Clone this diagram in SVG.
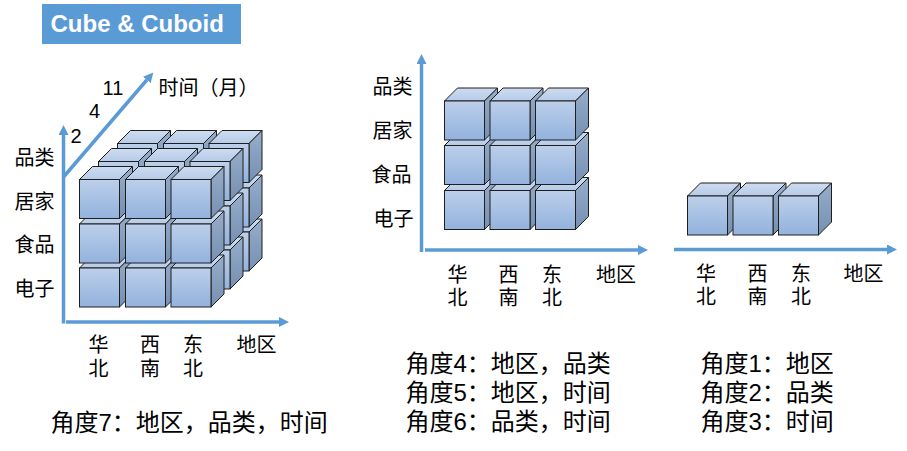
<svg xmlns="http://www.w3.org/2000/svg" width="907" height="451" viewBox="0 0 907 451">
<style>
.t{font-family:"Liberation Sans","Noto Sans CJK SC",sans-serif;fill:#000}
.lab{font-size:20px}
.cap{font-size:24px}
.num{font-size:20px}
.ax{stroke:#5b9bd5;stroke-width:3.5;fill:none;marker-end:url(#arr)}
.front{fill:url(#gFront);stroke:#1e1e1e;stroke-width:1}
.top{fill:url(#gTop);stroke:#1e1e1e;stroke-width:1;stroke-linejoin:round}
.side{fill:url(#gSide);stroke:#1e1e1e;stroke-width:1}
</style>
<defs>
<linearGradient id="gFront" x1="0" y1="0" x2="0" y2="1"><stop offset="0" stop-color="#bccfea"/><stop offset="1" stop-color="#93b2dd"/></linearGradient>
<linearGradient id="gTop" x1="0" y1="0" x2="0" y2="1"><stop offset="0" stop-color="#cddcf1"/><stop offset="1" stop-color="#b6cbe8"/></linearGradient>
<linearGradient id="gSide" x1="0" y1="0" x2="0" y2="1"><stop offset="0" stop-color="#97adca"/><stop offset="1" stop-color="#7690b2"/></linearGradient>
<g id="cube">
<path class="top" d="M0,0 L13,-13 L53,-13 L40,0 Z"/>
<path class="side" d="M40,0 L53,-13 L53,26 L40,39 Z"/>
<rect class="front" x="0" y="0" width="40" height="39"/>
</g>
<marker id="arr" viewBox="0 0 10 10" refX="0" refY="5" markerWidth="10" markerHeight="10" markerUnits="userSpaceOnUse" orient="auto"><path d="M0,0 L10,5 L0,10 Z" fill="#5b9bd5"/></marker>
</defs>
<rect x="0" y="0" width="907" height="451" fill="#ffffff"/>

<g id="title">
<rect x="42" y="4" width="199" height="40" fill="#5b9bd5"/>
<text x="50.5" y="32" font-family="Liberation Sans, sans-serif" font-size="24" font-weight="bold" fill="#ffffff">Cube &amp; Cuboid</text>
</g>

<g id="connectors">
<line class="ax" x1="63.5" y1="323.5" x2="63.5" y2="135"/>
<line class="ax" x1="66" y1="322" x2="279" y2="322"/>
<line class="ax" x1="63.5" y1="177" x2="146.8" y2="80"/>
<line class="ax" x1="421.5" y1="252" x2="421.5" y2="64"/>
<line class="ax" x1="425" y1="250" x2="638" y2="250"/>
<line class="ax" x1="674" y1="249.5" x2="887" y2="249.5"/>
</g>

<g id="cube3d">
<use href="#cube" x="117.5" y="232"/><use href="#cube" x="163.5" y="232"/><use href="#cube" x="209" y="232"/>
<use href="#cube" x="117.5" y="188"/><use href="#cube" x="163.5" y="188"/><use href="#cube" x="209" y="188"/>
<use href="#cube" x="117.5" y="143.5"/><use href="#cube" x="163.5" y="143.5"/><use href="#cube" x="209" y="143.5"/>
<use href="#cube" x="98.5" y="250"/><use href="#cube" x="144.5" y="250"/><use href="#cube" x="190" y="250"/>
<use href="#cube" x="98.5" y="206"/><use href="#cube" x="144.5" y="206"/><use href="#cube" x="190" y="206"/>
<use href="#cube" x="98.5" y="161.5"/><use href="#cube" x="144.5" y="161.5"/><use href="#cube" x="190" y="161.5"/>
<use href="#cube" x="79.5" y="268"/><use href="#cube" x="125.5" y="268"/><use href="#cube" x="171" y="268"/>
<use href="#cube" x="79.5" y="224"/><use href="#cube" x="125.5" y="224"/><use href="#cube" x="171" y="224"/>
<use href="#cube" x="79.5" y="179.5"/><use href="#cube" x="125.5" y="179.5"/><use href="#cube" x="171" y="179.5"/>
</g>

<g id="cube2d">
<use href="#cube" x="444.5" y="190.5"/><use href="#cube" x="490" y="190.5"/><use href="#cube" x="535.5" y="190.5"/>
<use href="#cube" x="444.5" y="145.5"/><use href="#cube" x="490" y="145.5"/><use href="#cube" x="535.5" y="145.5"/>
<use href="#cube" x="444.5" y="101"/><use href="#cube" x="490" y="101"/><use href="#cube" x="535.5" y="101"/>
</g>

<g id="cube1d">
<use href="#cube" x="687.5" y="196"/><use href="#cube" x="733" y="196"/><use href="#cube" x="778.5" y="196"/>
</g>

<g id="labels-left">
<text class="t num" x="102.5" y="95">11</text>
<text class="t num" x="89" y="118">4</text>
<text class="t num" x="70.5" y="143">2</text>
<text class="t lab" x="158.5" y="95">时间（月）</text>
<text class="t lab" x="14.5" y="165">品类</text>
<text class="t lab" x="14.5" y="209">居家</text>
<text class="t lab" x="14.5" y="252">食品</text>
<text class="t lab" x="14.5" y="296">电子</text>
<text class="t lab" x="88.5" y="352">华</text>
<text class="t lab" x="88.5" y="376">北</text>
<text class="t lab" x="140" y="352">西</text>
<text class="t lab" x="140" y="376">南</text>
<text class="t lab" x="183" y="352">东</text>
<text class="t lab" x="183" y="376">北</text>
<text class="t lab" x="236.5" y="352">地区</text>
<text class="t cap" x="50.5" y="431">角度7：地区，品类，时间</text>
</g>

<g id="labels-middle">
<text class="t lab" x="372.5" y="94">品类</text>
<text class="t lab" x="372.5" y="138">居家</text>
<text class="t lab" x="371.5" y="182">食品</text>
<text class="t lab" x="373.5" y="226">电子</text>
<text class="t lab" x="447.5" y="282">华</text>
<text class="t lab" x="447.5" y="305">北</text>
<text class="t lab" x="498.5" y="282">西</text>
<text class="t lab" x="498.5" y="305">南</text>
<text class="t lab" x="542" y="282">东</text>
<text class="t lab" x="542" y="305">北</text>
<text class="t lab" x="596" y="282">地区</text>
<text class="t cap" x="405.5" y="372">角度4：地区，品类</text>
<text class="t cap" x="405.5" y="401">角度5：地区，时间</text>
<text class="t cap" x="405.5" y="430">角度6：品类，时间</text>
</g>

<g id="labels-right">
<text class="t lab" x="696" y="281">华</text>
<text class="t lab" x="696" y="304">北</text>
<text class="t lab" x="747.5" y="281">西</text>
<text class="t lab" x="747.5" y="304">南</text>
<text class="t lab" x="791" y="281">东</text>
<text class="t lab" x="791" y="304">北</text>
<text class="t lab" x="843.5" y="281">地区</text>
<text class="t cap" x="700.5" y="372">角度1：地区</text>
<text class="t cap" x="700.5" y="401">角度2：品类</text>
<text class="t cap" x="700.5" y="430">角度3：时间</text>
</g>
</svg>
